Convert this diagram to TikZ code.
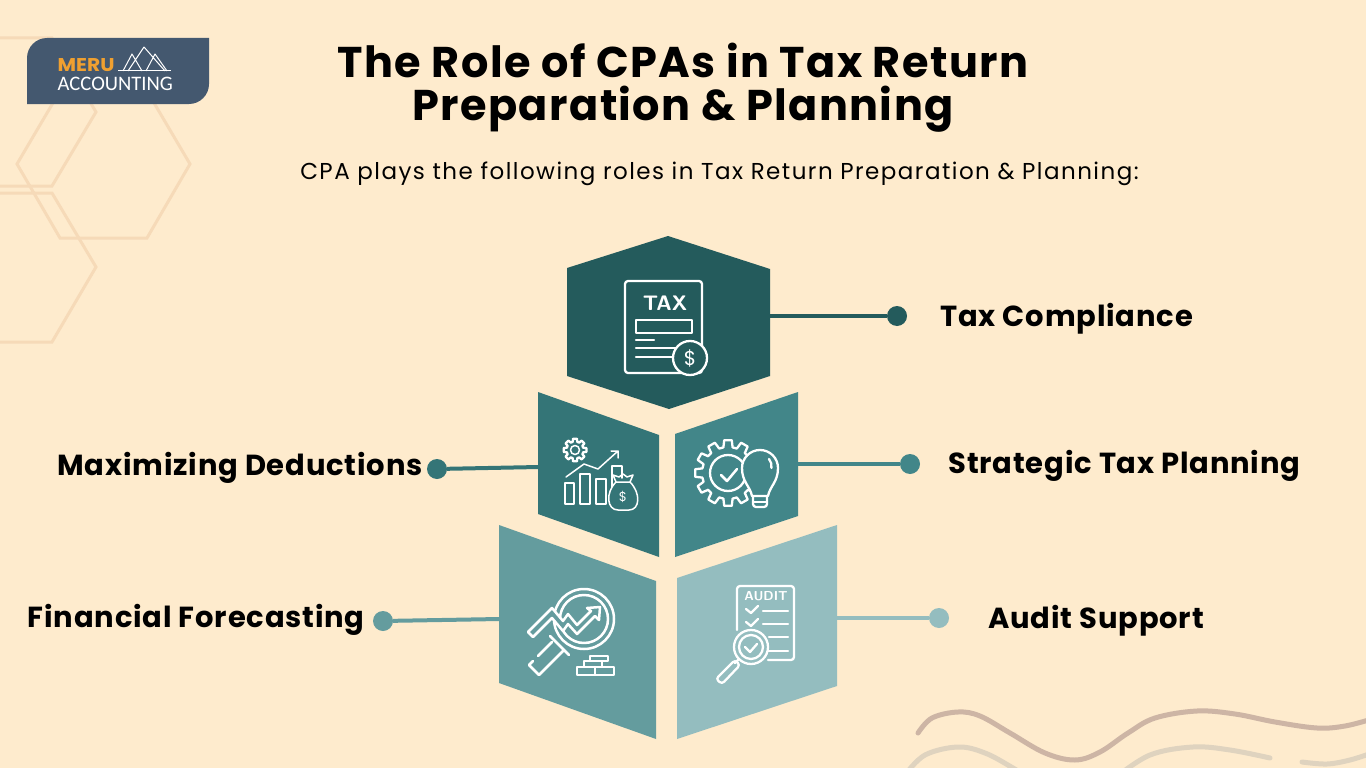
\documentclass[tikz,border=0pt]{standalone}
\usepackage{fontspec}
\setmainfont{Poppins}
\newfontfamily\logofont{Carlito}
\usetikzlibrary{positioning}
\definecolor{paper}{HTML}{FEEBCD}
\definecolor{hexline}{HTML}{F6DAB8}
\definecolor{logoblue}{HTML}{44586F}
\definecolor{logoorange}{HTML}{F0A030}
\definecolor{tealA}{HTML}{245B5C}
\definecolor{tealB}{HTML}{347577}
\definecolor{tealC}{HTML}{428689}
\definecolor{tealD}{HTML}{649C9E}
\definecolor{tealE}{HTML}{94BDBF}
\definecolor{waveA}{HTML}{CDB5A5}
\definecolor{waveB}{HTML}{DFD3BF}
\tikzset{
	outline/.style = {draw=hexline, line width=3pt, line join=miter},
	icon/.style = {draw=white, line width=2.3pt, line join=round, line cap=round},
	dot/.style = {circle, minimum size=20pt, inner sep=0pt},
	link/.style = {line width=4pt},
	rolelabel/.style = {inner sep=0pt, font=\fontsize{29}{34}\selectfont\bfseries\addfontfeatures{LetterSpace=2.8}},
	wave/.style = {line width=5pt, line cap=round},
}
% gear outline: centre, inner radius, outer radius, teeth
\newcommand{\gearicon}[4]{
	\pgfmathsetmacro{\gearstep}{360/#4}
	\draw[icon, shift={(#1)}] (0:#3) foreach \k in {1,...,#4} {
		-- (\k*\gearstep-\gearstep+.22*\gearstep:#3) -- (\k*\gearstep-\gearstep+.34*\gearstep:#2)
		-- (\k*\gearstep-.34*\gearstep:#2) -- (\k*\gearstep-.22*\gearstep:#3)
	} -- cycle;
}
\begin{document}
\begin{tikzpicture}[x=1pt, y=-1pt]
		\useasboundingbox[fill=paper] (0,0) rectangle (1366,768);
		% background hexagons
		\draw[outline] (0,38) -- (52,38) -- (96,112) -- (52,186) -- (0,186);
		\draw[outline] (60,91) -- (147,91) -- (190,164) -- (147,238) -- (60,238) -- (17,164) -- cycle;
		\draw[outline] (0,193) -- (52,193) -- (96,267) -- (52,342) -- (0,342);
		% waves
		\draw[wave, waveB] plot[smooth, tension=.6] coordinates {(905,775) (925,755) (958,747) (985,753) (1013,768) (1040,785)};
		\draw[wave, waveB] plot[smooth, tension=.6] coordinates {(1115,778) (1150,755) (1193,747) (1230,750) (1270,758)};
		\draw[wave, waveB] plot[smooth, tension=.6] coordinates {(1302,762) (1327,764) (1350,760) (1372,753)};
		\draw[wave, waveA] plot[smooth, tension=.6] coordinates {(918,733) (932,718) (958,712) (980,716) (1010,733) (1045,753) (1075,760) (1100,752) (1128,733) (1155,718) (1197,711) (1235,714) (1275,722) (1317,728) (1345,726) (1372,719)};
		% logo
		\fill[logoblue] (47,38) -- (209,38) -- (209,84) arc[start angle=0, end angle=90, radius=20] -- (27,104) -- (27,58) arc[start angle=180, end angle=270, radius=20] -- cycle;
		\node[anchor=base west, xscale=1.09, inner sep=0pt, text=logoorange, font=\fontsize{18.5}{20}\selectfont\bfseries] (logoMeru) at (57.5,71) {MERU};
		\node[anchor=base west, inner sep=0pt, text=white, font=\logofont\fontsize{20.6}{22}\selectfont] (logoAcc) at (57.5,91) {ACCOUNTING};
		\draw[white, line width=1pt] (118,71) -- (171,71);
		\draw[white, line width=1pt, line join=round] (123,71) -- (132,54) -- (142,71) (128,71) -- (144,47) -- (165,71) (146,71) -- (155,54) -- (167,71);
		% title
		\node[align=center, inner sep=0pt, font=\fontsize{43}{43}\selectfont\bfseries\addfontfeatures{LetterSpace=3.3}] (title) at (683,88) {The Role of CPAs in Tax Return\\Preparation \& Planning};
		\node[below = 29pt of title, xshift=36.5pt, inner sep=0pt, font=\fontsize{23}{28}\selectfont\addfontfeatures{LetterSpace=6.4}] (subtitle) {CPA plays the following roles in Tax Return Preparation \& Planning:};
		% blocks
		\fill[tealA] (668,236) -- (770,269) -- (770,376) -- (669,409) -- (567,376) -- (567,268) -- cycle;
		\fill[tealB] (538,392) -- (659,435) -- (659,557) -- (538,514) -- cycle;
		\fill[tealC] (675,434) -- (798,392) -- (798,516) -- (675,557) -- cycle;
		\fill[tealD] (499,525) -- (656,581) -- (656,739) -- (499,683) -- cycle;
		\fill[tealE] (677,578) -- (837,525) -- (837,686) -- (677,739) -- cycle;
		% connector ends on the blocks
		\coordinate (blockTax) at (769,316);
		\coordinate (blockPlan) at (797,464);
		\coordinate (blockDed) at (539,467);
		\coordinate (blockFore) at (500,619);
		\coordinate (blockAudit) at (836,618);
		% dots
		\node[dot, fill=tealA] (dotTax) at (897,316) {};
		\node[dot, fill=tealC] (dotPlan) at (910,464) {};
		\node[dot, fill=tealB] (dotDed) at (437,469) {};
		\node[dot, fill=tealD] (dotFore) at (383,621) {};
		\node[dot, fill=tealE] (dotAudit) at (939,618) {};
		% labels
		\node[rolelabel, right = 33pt of dotTax, yshift=-3pt] (labTax) {Tax Compliance};
		\node[rolelabel, right = 28pt of dotPlan, yshift=-2pt] (labPlan) {Strategic Tax Planning};
		\node[rolelabel, left = 4pt of dotDed, yshift=1pt] (labDed) {Maximizing Deductions};
		\node[rolelabel, left = 8pt of dotFore, yshift=1pt] (labFore) {Financial Forecasting};
		\node[rolelabel, right = 39pt of dotAudit, yshift=-3pt] (labAudit) {Audit Support};
		% connectors
		\draw[link, tealA] (blockTax) -- (dotTax);
		\draw[link, tealC] (blockPlan) -- (dotPlan);
		\draw[link, tealB] (blockDed) -- (dotDed);
		\draw[link, tealD] (blockFore) -- (dotFore);
		\draw[link, tealE] (blockAudit) -- (dotAudit);
		% tax icon
		\draw[icon, rounded corners=3pt] (625,281) rectangle (702,373);
		\draw[icon] (636,320) rectangle (692,333);
		\draw[icon] (636,340) -- (654,340) (636,348) -- (677,348) (636,357) -- (672,357);
		\draw[icon, fill=tealA] (690,358) circle (17);
		\node[text=white, inner sep=0pt, font=\fontsize{21}{21}\selectfont\sffamily\bfseries\addfontfeatures{LetterSpace=8}] (iconTax) at (665,303) {TAX};
		\node[text=white, inner sep=0pt, font=\fontsize{20}{20}\selectfont] (iconCoin) at (690,358) {\$};
		% deductions icon
		\gearicon{575,450}{8.5}{11.5}{8}
		\draw[icon, line width=1.5pt] (575,450) circle (4.5);
		\draw[icon, line width=1.5pt] (565,483) rectangle (574,504) (580,474) rectangle (590,504) (596,479) rectangle (606,504);
		\draw[icon, line width=1.5pt] (612,495) -- (612,466) -- (622,466) -- (622,478);
		\draw[icon, line width=1.5pt] (566,477) -- (584,464) -- (598,469) -- (618,451) (611,451) -- (618,451) -- (618,458);
		\draw[icon, line width=1.5pt, fill=tealB] (616,482) .. controls (605,493) and (607,510) .. (618,510) -- (629,510) .. controls (640,510) and (641,493) .. (630,482) -- cycle;
		\draw[icon, line width=1.5pt] (616,482) -- (613,475) -- (619,477) -- (623,474) -- (627,477) -- (633,475) -- (630,482);
		\node[text=white, inner sep=0pt, font=\fontsize{13}{13}\selectfont] (iconBag) at (623,497) {\$};
		% planning icon
		\gearicon{728,473}{26}{33}{12}
		\draw[icon] (728,473) circle (18);
		\draw[icon, line width=2.5pt] (721,475) -- (727,481) -- (737,469);
		\draw[icon, fill=tealC] (752,496) .. controls (750,486) and (742,482) .. (742,468) arc[start angle=180, end angle=360, radius=18] .. controls (778,482) and (770,486) .. (768,496) -- cycle;
		\draw[icon, rounded corners=3pt] (753,496) -- (753,507) -- (767,507) -- (767,496);
		\draw[icon] (753,502) -- (767,502);
		\draw[icon] (769,459) arc[start angle=-40, end angle=10, radius=11];
		% forecasting icon
		\draw[icon, line width=2.5pt] (584,619) circle (30) (584,619) circle (24);
		\draw[icon, line width=2.5pt, fill=tealD] (528,632) -- (552,608) -- (563,621) -- (568,614) -- (577,625) -- (591,611) -- (587,608) -- (600,607) -- (599,620) -- (595,616) -- (577,634) -- (568,624) -- (563,631) -- (552,618) -- (533,637) -- cycle;
		\draw[icon, line width=2.5pt] (552,642) -- (538,656) (533,661) -- (529,665) -- (539,675) -- (564,650);
		\draw[icon, line width=2.5pt] (550,636) -- (569,655);
		\draw[icon] (590,656) rectangle (608,661) (584,661) rectangle (602,667) (577,667) rectangle (614,675) (595,667) -- (595,675);
		% audit icon
		\draw[icon, rounded corners=3pt] (737,630) -- (737,586) -- (794,586) -- (794,660) -- (768,660);
		\node[text=white, inner sep=0pt, font=\fontsize{13}{13}\selectfont\sffamily\bfseries] (iconAudit) at (766,596) {AUDIT};
		\draw[icon] (746,609) -- (751,613) -- (758,606) (746,622) -- (751,626) -- (758,619);
		\draw[icon] (763,611) -- (788,611) (763,624) -- (788,624) (769,637) -- (788,637) (767,651) -- (788,651);
		\draw[icon, fill=tealE] (751,647) circle (17);
		\draw[icon] (751,647) circle (12);
		\draw[icon] (745,647) -- (750,652) -- (757,644);
		\draw[icon] (739,659) -- (735,663);
		\draw[icon, rounded corners=3pt] (735,660) -- (740,665) -- (722,684) -- (716,679) -- cycle;
\end{tikzpicture}
\end{document}
